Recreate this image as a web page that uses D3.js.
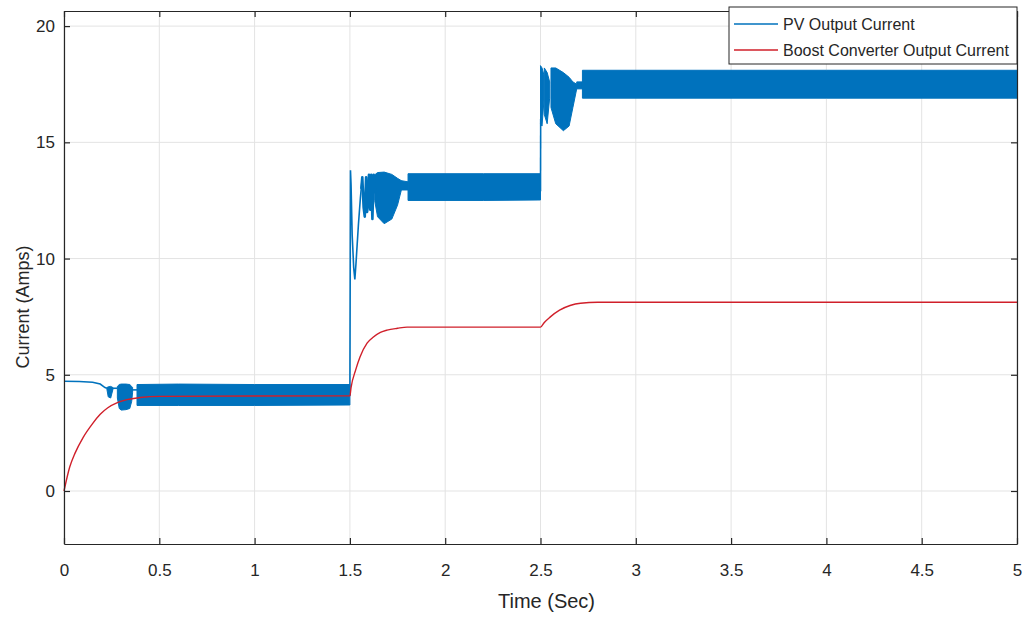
<!DOCTYPE html>
<html>
<head>
<meta charset="utf-8">
<script src="https://cdn.jsdelivr.net/npm/d3@7"></script>
<style>
  body { margin: 0; background: #fff; }
  text { font-family: "Liberation Sans", Arial, sans-serif; fill: #262626; }
</style>
</head>
<body>
<svg width="1027" height="621"></svg>
<script>
// tick values
var xTicks = [0, 0.5, 1, 1.5, 2, 2.5, 3, 3.5, 4, 4.5, 5];
var yTicks = [0, 5, 10, 15, 20];

// PV current: solid oscillation bands, [t, low, high]
var pvBands = [
    [[0.225, 4.38, 4.45], [0.232, 4.05, 4.48], [0.245, 4.0, 4.5], [0.257, 4.38, 4.45]],
    [[0.28, 4.0, 4.5], [0.29, 3.55, 4.58], [0.30, 3.48, 4.6], [0.325, 3.5, 4.6], [0.345, 3.55, 4.58], [0.355, 3.85, 4.5], [0.36, 4.25, 4.45]],
    [[0.383, 3.68, 4.58], [0.6, 3.68, 4.6], [1.0, 3.68, 4.58], [1.5, 3.7, 4.58]],
    [[1.63, 12.5, 13.6], [1.645, 11.8, 13.7], [1.68, 11.5, 13.72], [1.72, 11.7, 13.62], [1.75, 12.3, 13.45], [1.77, 12.95, 13.35]],
    [[1.77, 12.95, 13.35], [1.805, 12.95, 13.3]],
    [[1.805, 12.5, 13.65], [2.2, 12.5, 13.65], [2.5, 12.52, 13.65]],
    [[2.5, 15.8, 18.3], [2.508, 15.7, 18.2], [2.518, 16.8, 17.9]],
    [[2.52, 16.2, 18.2], [2.535, 15.8, 18.0], [2.548, 16.9, 17.6]],
    [[2.555, 16.5, 18.2], [2.58, 15.8, 18.2], [2.62, 15.5, 18.0], [2.65, 15.7, 17.8], [2.67, 16.5, 17.6], [2.69, 17.3, 17.5]],
    [[2.69, 17.3, 17.6], [2.72, 17.3, 17.6]],
    [[2.72, 16.9, 18.1], [4.0, 16.9, 18.1], [5, 16.9, 18.1]]
];

// PV current: thin parts, [t, value]
var pvLines = [
    [[0, 4.72], [0.08, 4.71], [0.15, 4.68], [0.19, 4.6], [0.215, 4.45], [0.225, 4.42]],
    [[0.255, 4.42], [0.28, 4.42]],
    [[0.355, 4.35], [0.385, 4.35]],
    [[1.5, 4.1], [1.5, 4.3], [1.503, 13.8], [1.506, 13.2], [1.512, 11.0], [1.52, 9.6], [1.526, 9.1], [1.532, 9.8], [1.545, 11.5], [1.555, 12.6], [1.565, 13.5]],
    [[2.5, 12.9], [2.501, 16.0]]
];

// PV current: first lobes after the 1.5 s step
var pvZigzag = [[1.56, 13.0], [1.565, 13.5], [1.572, 12.2], [1.578, 11.8], [1.585, 13.5], [1.59, 12.0], [1.595, 12.3],
    [1.6, 13.6], [1.607, 12.1], [1.612, 13.6], [1.618, 11.7], [1.625, 13.6], [1.632, 12.8]];

// boost converter output current, [t, value]
var boostCurrent = [[0, 0], [0.03, 1.03], [0.058, 1.63], [0.1, 2.3], [0.15, 2.9], [0.19, 3.3], [0.23, 3.58], [0.28, 3.8],
    [0.33, 3.93], [0.4, 4.02], [0.5, 4.07], [1.5, 4.1], [1.506, 4.45], [1.53, 5.2], [1.553, 5.76], [1.59, 6.36],
    [1.62, 6.6], [1.66, 6.82], [1.695, 6.92], [1.75, 7.0], [1.8, 7.05], [2.5, 7.05], [2.52, 7.25], [2.55, 7.48],
    [2.6, 7.78], [2.655, 7.98], [2.71, 8.08], [2.8, 8.12], [5, 8.12]];

var legendLabels = ["PV Output Current", "Boost Converter Output Current"];

var blue = "#0072bd",
    red = "#d01f2a",
    ink = "#262626";

var svg = d3.select("svg");
var mLeft = 64, mRight = 1017, mTop = 11, mBottom = 544;

var x = d3.scaleLinear().domain([0, 5]).range([mLeft, mRight]);
var y = d3.scaleLinear().domain([-2.28, 20.65]).range([mBottom, mTop]);

// grid
svg.append("g").selectAll("line").data(xTicks).enter().append("line")
    .attr("x1", function(d) { return x(d); }).attr("x2", function(d) { return x(d); })
    .attr("y1", mTop).attr("y2", mBottom)
    .style("stroke", "#e3e3e3").style("stroke-width", 1);
svg.append("g").selectAll("line").data(yTicks).enter().append("line")
    .attr("x1", mLeft).attr("x2", mRight)
    .attr("y1", function(d) { return y(d); }).attr("y2", function(d) { return y(d); })
    .style("stroke", "#e3e3e3").style("stroke-width", 1);

var plot = svg.append("g");

var area = d3.area()
    .x(function(d) { return x(d[0]); })
    .y0(function(d) { return y(d[1]); })
    .y1(function(d) { return y(d[2]); });
var line = d3.line()
    .x(function(d) { return x(d[0]); })
    .y(function(d) { return y(d[1]); });
var smooth = d3.line()
    .curve(d3.curveMonotoneX)
    .x(function(d) { return x(d[0]); })
    .y(function(d) { return y(d[1]); });

plot.selectAll(".band").data(pvBands).enter().append("path")
    .attr("class", "band")
    .attr("d", area)
    .style("fill", blue).style("stroke", blue).style("stroke-width", 1);

plot.selectAll(".pvline").data(pvLines).enter().append("path")
    .attr("class", "pvline")
    .attr("d", line)
    .style("fill", "none").style("stroke", blue).style("stroke-width", 1.6);

plot.append("path")
    .attr("d", line(pvZigzag))
    .style("fill", "none").style("stroke", blue).style("stroke-width", 2.6)
    .style("stroke-linejoin", "round");

plot.append("path")
    .attr("d", smooth(boostCurrent))
    .style("fill", "none").style("stroke", red).style("stroke-width", 1.4);

// axes (box with inward ticks)
var axisB = d3.axisBottom(x).tickValues(xTicks).tickSizeInner(-6).tickSizeOuter(0).tickPadding(20)
    .tickFormat(function(d) { return d3.format("")(d); });
var axisT = d3.axisTop(x).tickValues(xTicks).tickSizeInner(-6).tickSizeOuter(0).tickFormat("");
var axisL = d3.axisLeft(y).tickValues(yTicks).tickSizeInner(-6).tickSizeOuter(0).tickPadding(9);
var axisR = d3.axisRight(y).tickValues(yTicks).tickSizeInner(-6).tickSizeOuter(0).tickFormat("");

var gB = svg.append("g").attr("transform", "translate(0," + mBottom + ")").call(axisB);
var gT = svg.append("g").attr("transform", "translate(0," + mTop + ")").call(axisT);
var gL = svg.append("g").attr("transform", "translate(" + mLeft + ",0)").call(axisL);
var gR = svg.append("g").attr("transform", "translate(" + mRight + ",0)").call(axisR);

[gB, gT, gL, gR].forEach(function(g) {
    g.select(".domain").style("stroke", ink).style("stroke-width", 1.2);
    g.selectAll(".tick line").style("stroke", ink).style("stroke-width", 1.2);
    g.selectAll(".tick text").style("font-size", "17px").style("fill", ink)
        .style("font-family", "'Liberation Sans', Arial, sans-serif");
});

svg.append("text")
    .attr("x", (mLeft + mRight) / 2 + 6).attr("y", 608)
    .attr("text-anchor", "middle")
    .style("font-size", "20px")
    .text("Time (Sec)");

svg.append("text")
    .attr("transform", "translate(29,307) rotate(-90)")
    .attr("text-anchor", "middle")
    .style("font-size", "18px")
    .text("Current (Amps)");

// legend
var legend = svg.append("g").attr("transform", "translate(729,7)");
legend.append("rect")
    .attr("width", 288).attr("height", 57)
    .style("fill", "#fff").style("stroke", ink).style("stroke-width", 1);
var colors = [blue, red];
var item = legend.selectAll(".item").data(legendLabels).enter().append("g")
    .attr("transform", function(d, i) { return "translate(0," + (17 + i * 26) + ")"; });
item.append("line")
    .attr("x1", 5).attr("x2", 49)
    .style("stroke", function(d, i) { return colors[i]; }).style("stroke-width", 1.4);
item.append("text")
    .attr("x", 54).attr("dy", "0.35em")
    .style("font-size", "16px")
    .text(function(d) { return d; });
</script>
</body>
</html>
